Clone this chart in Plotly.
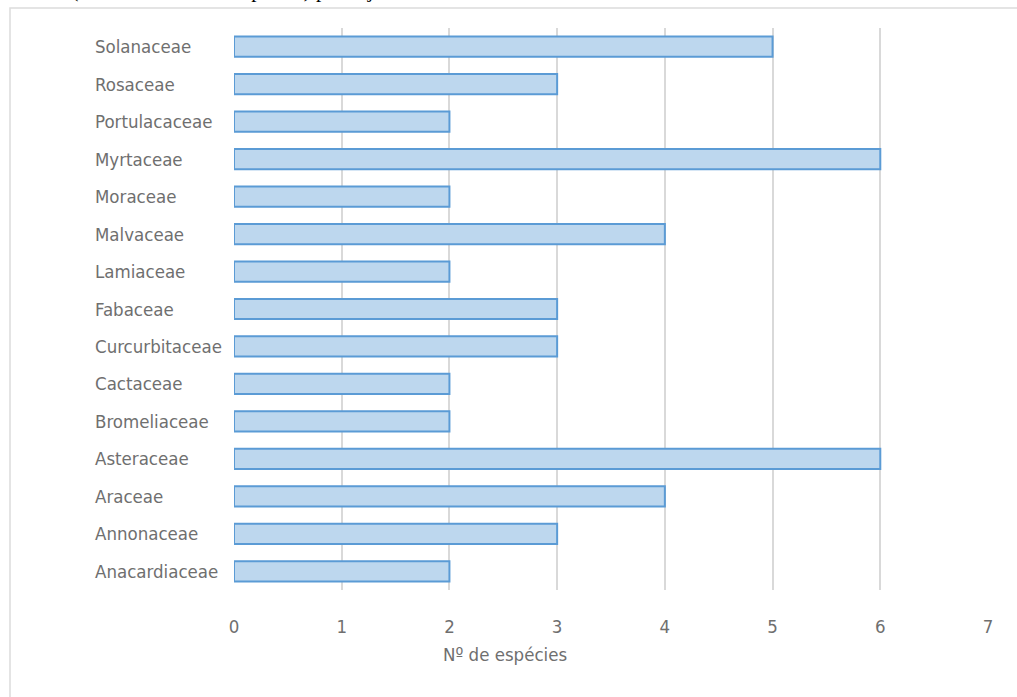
import plotly.graph_objects as go

# Species count per plant family (bottom to top)
families = [
    "Anacardiaceae", "Annonaceae", "Araceae", "Asteraceae", "Bromeliaceae",
    "Cactaceae", "Curcurbitaceae", "Fabaceae", "Lamiaceae", "Malvaceae",
    "Moraceae", "Myrtaceae", "Portulacaceae", "Rosaceae", "Solanaceae",
]
species = [2, 3, 4, 6, 2, 2, 3, 3, 2, 4, 2, 6, 2, 3, 5]
x_ticks = [0, 1, 2, 3, 4, 5, 6, 7]

W, H = 1017, 697
L, R, T, B = 234, 29, 28, 107
PW, PH = W - L - R, H - T - B

def px_x(p):
    return (p - L) / PW

def px_y(p):
    return (H - B - p) / PH

FONT = "DejaVu Sans Condensed, Liberation Sans Narrow, Arial Narrow, sans-serif"
GRAY = "#6f6f6f"

fig = go.Figure(go.Bar(
    x=species, y=families, orientation="h",
    marker=dict(color="#bdd7ee", line=dict(color="#5b9bd5", width=2)),
))

annotations = [
    dict(text=f, x=px_x(93), xref="paper", xanchor="left", y=f, yref="y",
         showarrow=False, font=dict(family=FONT, size=18.5, color=GRAY))
    for f in families
]
annotations.append(dict(
    text="Nº de espécies", x=px_x(505), xref="paper", xanchor="center",
    y=px_y(654), yref="paper", yanchor="middle", showarrow=False,
    font=dict(family=FONT, size=18.5, color=GRAY)))
annotations.append(dict(
    text="Famílias (com mais de duas espécies) por sujeitos do estudo.",
    x=px_x(-8), xref="paper", xanchor="left", y=px_y(4), yref="paper",
    yanchor="bottom", showarrow=False,
    font=dict(family="Liberation Serif, Times New Roman, serif", size=21, color="#000000")))

fig.update_layout(
    width=W, height=H,
    margin=dict(l=L, r=R, t=T, b=B),
    paper_bgcolor="white", plot_bgcolor="white",
    bargap=0.46,
    showlegend=False,
    annotations=annotations,
    shapes=[dict(type="rect", xref="paper", yref="paper",
                 x0=px_x(10), x1=px_x(1030), y0=px_y(710), y1=px_y(8),
                 line=dict(color="#dcdcdc", width=1.5), layer="below")],
    xaxis=dict(range=[0, 7], tickvals=x_ticks, showgrid=True, gridcolor="#d9d9d9",
               gridwidth=1.5, zeroline=False, showline=False, ticks="outside",
               ticklen=0, ticklabelstandoff=20,
               tickfont=dict(family=FONT, size=18.5, color=GRAY)),
    yaxis=dict(categoryorder="array", categoryarray=families,
               range=[-0.5, len(families) - 0.5], showticklabels=False,
               showgrid=False, zeroline=False, showline=False),
)

fig.write_html("out.html")
